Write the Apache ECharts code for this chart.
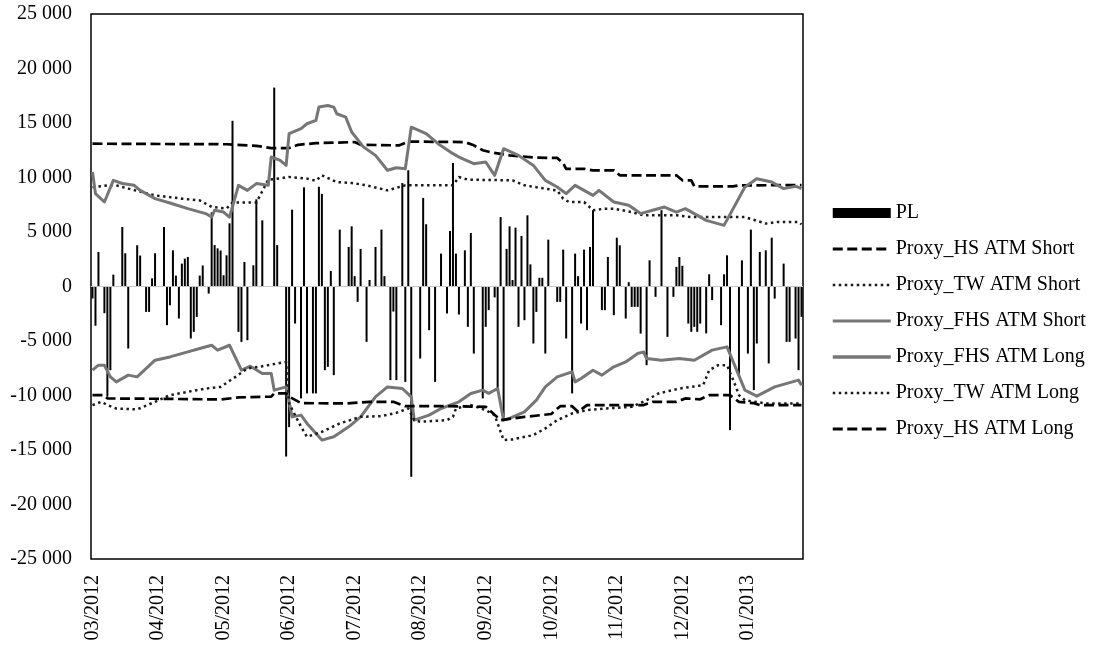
<!DOCTYPE html>
<html>
<head>
<meta charset="utf-8">
<script src="https://cdn.jsdelivr.net/npm/echarts@6/dist/echarts.min.js"></script>
<style>html,body{margin:0;padding:0;background:#fff;}#c{width:1097px;height:647px;}</style>
</head>
<body>
<div id="c"></div>
<script>
// Trading-day categories (index), labels every 22 days
var dayCount = 239;
var monthLabels = ['03/2012','04/2012','05/2012','06/2012','07/2012','08/2012','09/2012','10/2012','11/2012','12/2012','01/2013'];
var yTicks = [-25000,-20000,-15000,-10000,-5000,0,5000,10000,15000,20000,25000];

// Daily P&L bars
var plValues = [
-1100,-3600,3170,0,-2450,-10100,-7680,1090,0,0,
5460,3050,-5690,0,0,3780,2840,0,-2330,-2330,
750,3050,0,0,5460,-3550,-1720,3320,1000,-2940,
2100,2560,2710,-4770,-4160,-2790,1000,1930,0,-650,
6800,3800,3500,3300,1030,2860,5800,15200,0,-4160,
-5080,2250,-4930,0,1950,8000,0,6070,0,0,
0,18250,3800,0,0,-15600,-12900,7050,-3400,0,
-10270,9100,-9810,0,-9810,-9810,9150,8500,-7680,-7370,
1430,-8130,0,5220,0,0,3630,5520,950,-1410,
3450,0,-5080,600,0,3630,0,5220,950,0,
-8590,-2300,-8590,0,9490,-8750,10660,-17460,0,0,
-6610,8130,5710,-4010,0,-8750,0,3020,0,-2480,
5100,11330,3020,-2570,0,3320,-3700,4910,-6150,0,
0,-10270,-3700,-2170,0,-1000,-9510,6370,-12000,3450,
5520,600,5400,-3700,4640,-3090,6530,2030,-5230,-2330,
800,800,-6150,4300,0,0,-1410,-1410,3380,-4770,
0,-9810,3020,950,-3400,3380,-4010,3630,6990,0,
0,-2170,-2170,2710,0,-2630,4480,3780,0,-2940,
400,-1870,-1870,-1870,-4320,0,-7220,2400,0,-950,
0,7000,0,-4620,0,-950,1800,2710,1900,0,
-3400,-4160,-3700,-4160,-3400,0,-4300,1120,-1250,0,
0,-3550,1120,2860,-13180,0,0,-8290,2400,0,
-6150,5220,-9510,-5230,3170,0,3320,-7060,4480,-1110,
0,0,2100,-5080,-5080,0,-4770,-7680,-2790
];

// Line vertices: [dayIndex, value]
var hsShort = [[0,13100],[45,13050],[55,12900],[60,12700],[66,12700],[69,13000],[75,13150],[88,13250],[90,13000],[103,12950],[106,13300],[125,13250],[128,12950],[131,12500],[134,12300],[140,12030],[149,11820],[156,11800],[158,11300],[159,10800],[165,10800],[168,10650],[175,10650],[177,10200],[196,10200],[198,9740],[201,9740],[202,9190],[215,9190],[217,9280],[238,9300]];
var twShort = [[0,9100],[5,9280],[8,9280],[12,8980],[21,8360],[30,8060],[36,7900],[40,7300],[45,7150],[47,7700],[55,7700],[59,9800],[61,9850],[66,10050],[72,9900],[75,9700],[77,10200],[82,9580],[87,9500],[92,9280],[99,8820],[105,9280],[121,9280],[123,10040],[126,9800],[141,9740],[145,9280],[152,8980],[156,8800],[158,8060],[160,7750],[165,7750],[168,7000],[172,7140],[175,7140],[181,6830],[185,6530],[196,6530],[201,6370],[219,6370],[226,5770],[230,5920],[237,5920],[238,5700]];
var fhsShort = [[0,10500],[1,8520],[4,7750],[7,9740],[10,9450],[14,9280],[16,8820],[21,8060],[26,7660],[32,7140],[38,6690],[40,6370],[41,6990],[44,6830],[46,6370],[49,9280],[52,8820],[55,9440],[59,9280],[60,11880],[63,11570],[65,11110],[66,14020],[70,14480],[72,14930],[75,15240],[76,16460],[79,16610],[81,16460],[82,15850],[85,15540],[87,14170],[91,12790],[95,12030],[99,10660],[102,10900],[105,10810],[107,14620],[112,14020],[116,13100],[121,12190],[123,11880],[128,11270],[132,11420],[135,10200],[138,12640],[143,12030],[148,11110],[152,9740],[156,9130],[159,8520],[162,9280],[168,8360],[170,8820],[175,7750],[180,7450],[184,6690],[188,6990],[192,7290],[196,6830],[199,7140],[206,6070],[212,5610],[219,9130],[223,9890],[228,9580],[232,8980],[236,9200],[238,8980]];
var fhsLong = [[0,-7680],[2,-7220],[4,-7220],[6,-8290],[8,-8750],[12,-8130],[15,-8290],[21,-6760],[26,-6460],[32,-6000],[36,-5690],[40,-5390],[42,-5840],[46,-5390],[50,-7680],[53,-7310],[57,-7980],[60,-7980],[61,-9510],[65,-9210],[67,-11960],[70,-11800],[72,-12560],[77,-14090],[81,-13790],[86,-12870],[90,-11960],[95,-10120],[99,-9210],[104,-9360],[107,-10120],[108,-12260],[113,-11800],[117,-11190],[123,-10580],[127,-9810],[131,-9510],[133,-9800],[136,-9360],[138,-12260],[140,-12100],[145,-11500],[149,-10430],[152,-9210],[156,-8290],[161,-7830],[162,-8750],[164,-8440],[168,-7680],[171,-8130],[175,-7370],[179,-6920],[183,-6150],[185,-6000],[186,-6610],[191,-6760],[197,-6610],[202,-6760],[208,-5840],[213,-5540],[219,-9510],[223,-10060],[229,-9210],[237,-8590],[238,-9050]];
var twLong = [[0,-10880],[3,-10580],[5,-10880],[8,-11190],[15,-11280],[21,-10580],[26,-9970],[32,-9660],[38,-9360],[43,-9210],[48,-8290],[52,-7520],[57,-7310],[65,-6920],[66,-10730],[70,-12870],[72,-13790],[77,-13330],[83,-12560],[90,-11960],[97,-11890],[102,-11590],[106,-11190],[108,-12260],[110,-12410],[119,-12260],[121,-11960],[122,-11190],[127,-10880],[132,-11340],[135,-11800],[138,-14090],[141,-14030],[148,-13630],[152,-13020],[156,-12260],[161,-11650],[166,-11340],[172,-11190],[181,-11040],[186,-10430],[190,-9810],[197,-9360],[205,-9050],[207,-7680],[210,-7220],[213,-7220],[216,-9210],[217,-9970],[219,-10430],[226,-10730],[238,-10730]];
var hsLong = [[0,-9970],[4,-9970],[5,-10270],[21,-10300],[43,-10360],[49,-10180],[60,-10100],[61,-9810],[65,-9810],[66,-10100],[70,-10700],[85,-10730],[93,-10580],[101,-10580],[105,-10980],[119,-10980],[132,-11040],[137,-12260],[145,-11960],[154,-11700],[157,-10980],[161,-10980],[163,-11500],[166,-10880],[185,-10880],[188,-10580],[196,-10580],[199,-10270],[204,-10350],[207,-9970],[214,-9970],[217,-10580],[222,-10700],[224,-10880],[238,-10880]];

var categories = [];
for (var k = 0; k < dayCount; k++) categories.push(k);

var FONT = 'Liberation Serif';
var chart = echarts.init(document.getElementById('c'), null, {renderer: 'canvas'});

function lineSeries(name, data, color, width, dash) {
  return {
    name: name, type: 'line', data: data, symbol: 'none', showSymbol: false,
    animation: false, z: 3,
    lineStyle: {color: color, width: width, type: dash, cap: 'butt', join: 'round'},
    itemStyle: {color: color}
  };
}
function lineLegend(name, w) {
  return {name: name, itemStyle: {opacity: 0}, lineStyle: {width: w}};
}

chart.setOption({
  animation: false,
  backgroundColor: '#fff',
  grid: {left: 91, right: 294, top: 14, bottom: 88, show: true, borderColor: '#000', borderWidth: 1.5, backgroundColor: 'transparent'},
  legend: {
    orient: 'vertical', left: 826, top: 198,
    itemWidth: 58, itemHeight: 10, itemGap: 16,
    textStyle: {fontFamily: FONT, fontSize: 20, color: '#000', lineHeight: 20},
    data: [
      {name: 'PL', icon: 'rect'},
      lineLegend('Proxy_HS ATM Short', 3),
      lineLegend('Proxy_TW ATM Short', 2.5),
      lineLegend('Proxy_FHS ATM Short', 3),
      lineLegend('Proxy_FHS ATM Long', 3.5),
      lineLegend('Proxy_TW ATM Long', 2.5),
      lineLegend('Proxy_HS ATM Long', 3)
    ]
  },
  xAxis: {
    type: 'category', data: categories, boundaryGap: true,
    axisLine: {show: false, onZero: false},
    axisTick: {show: false},
    splitLine: {show: false},
    axisLabel: {
      rotate: 90, margin: 16, fontFamily: FONT, fontSize: 20, color: '#000',
      interval: function (idx) { return idx % 22 === 0; },
      formatter: function (v, idx) { return monthLabels[Math.round(idx / 22)] || ''; }
    }
  },
  yAxis: {
    type: 'value', min: yTicks[0], max: yTicks[yTicks.length - 1], interval: 5000,
    axisLine: {show: false}, axisTick: {show: false}, splitLine: {show: false},
    axisLabel: {
      margin: 19, fontFamily: FONT, fontSize: 20, color: '#000',
      formatter: function (v) {
        if (v === 0) return '0';
        var a = Math.abs(v);
        return (v < 0 ? '-' : '') + Math.floor(a / 1000) + ' ' + ('00' + (a % 1000)).slice(-3);
      }
    }
  },
  series: [
    {
      name: 'PL', type: 'bar', data: plValues, barWidth: 2, z: 2,
      itemStyle: {color: '#000'},
      markLine: {
        silent: true, symbol: 'none', label: {show: false},
        lineStyle: {color: '#c8c8c8', width: 1, type: 'solid'},
        data: [{yAxis: 0}]
      }
    },
    lineSeries('Proxy_HS ATM Short', hsShort, '#000', 2.7, [10, 4.5]),
    lineSeries('Proxy_TW ATM Short', twShort, '#1a1a1a', 2.5, [2.5, 3.5]),
    lineSeries('Proxy_FHS ATM Short', fhsShort, '#767676', 3, 'solid'),
    lineSeries('Proxy_FHS ATM Long', fhsLong, '#767676', 3, 'solid'),
    lineSeries('Proxy_TW ATM Long', twLong, '#1a1a1a', 2.5, [2.5, 3.5]),
    lineSeries('Proxy_HS ATM Long', hsLong, '#000', 2.7, [10, 4.5])
  ]
});
</script>
</body>
</html>
